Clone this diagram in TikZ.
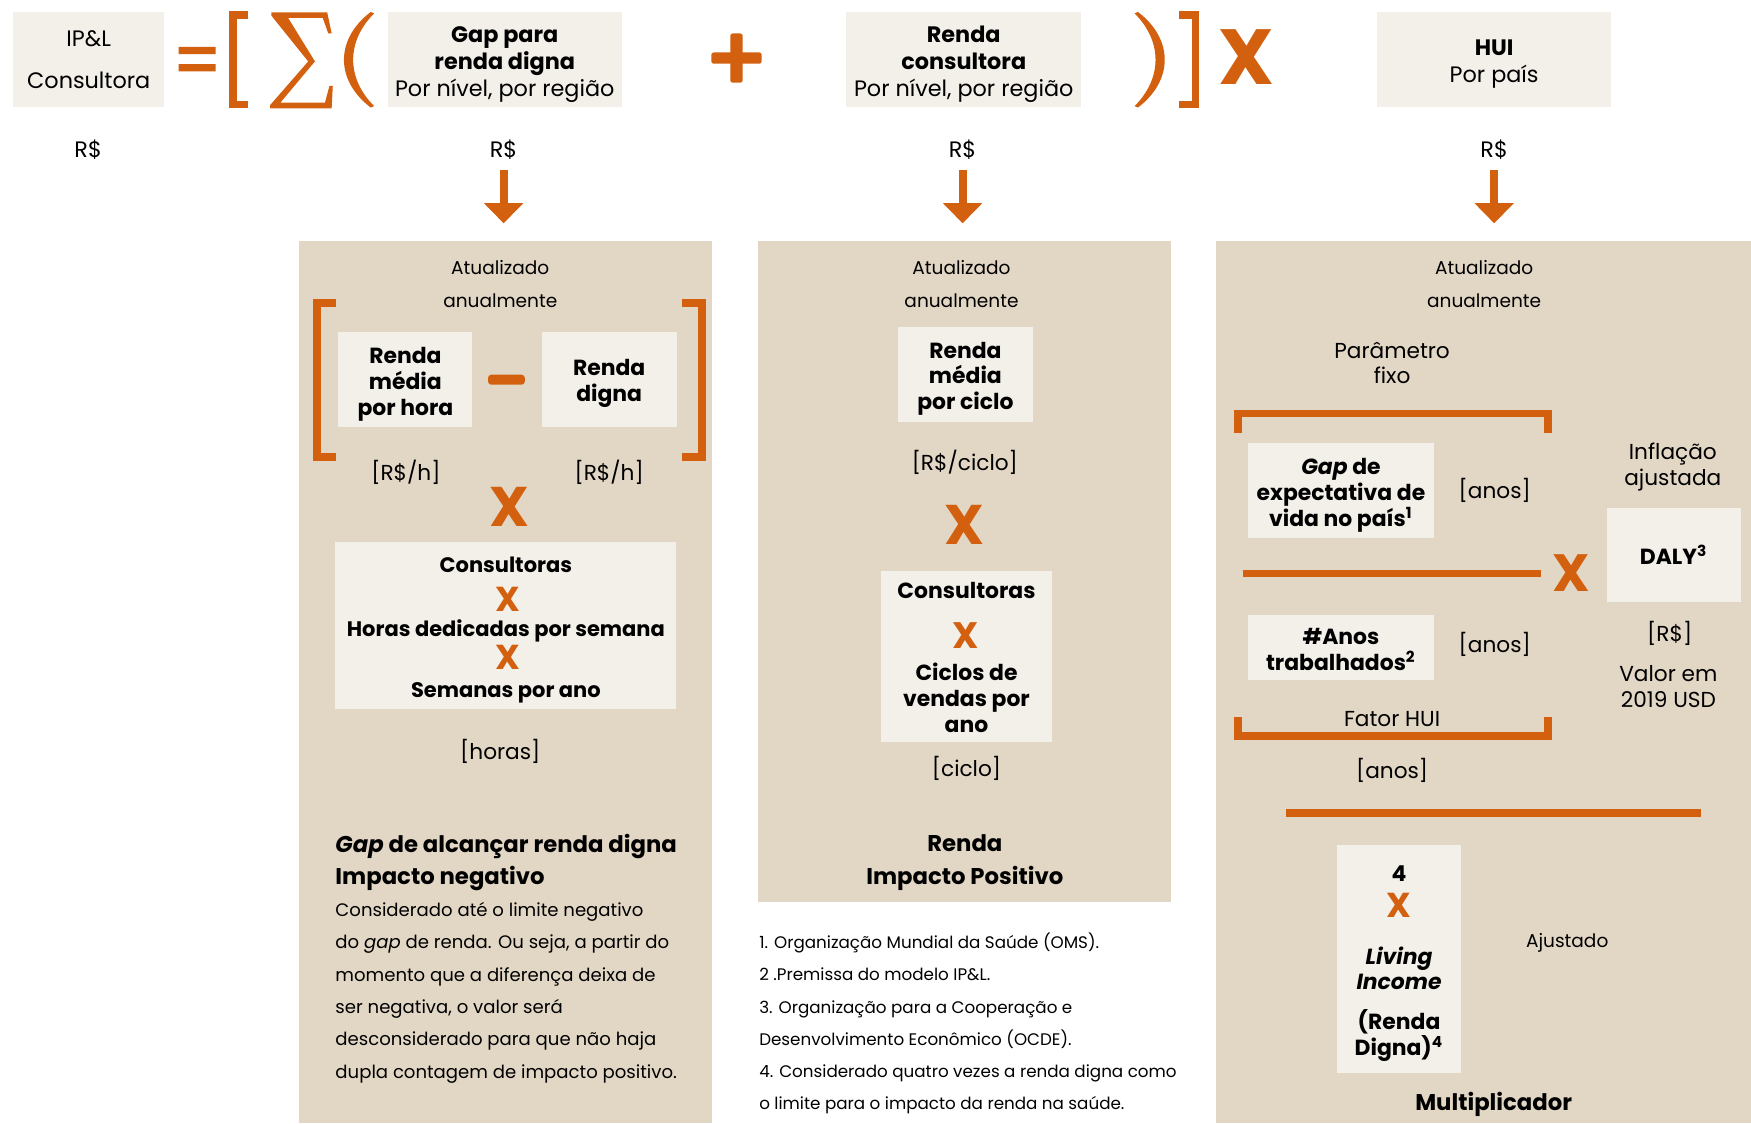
\documentclass[tikz,border=0pt]{standalone}
\usepackage{fontspec}
\setmainfont{Poppins}
\usetikzlibrary{arrows.meta}
\definecolor{orng}{HTML}{D3600F}
\definecolor{pale}{HTML}{F3EFE9}
\definecolor{sand}{HTML}{E2D7C5}
\newcommand\strutup[1]{\rule{0pt}{#1}}

\begin{document}
\begin{tikzpicture}[x=0.5pt, y=-0.5pt,
    pale box/.style={fill=pale, inner sep=0pt, align=center},
    top box/.style={pale box, minimum width=105pt, minimum height=42.5pt, font=\fontsize{10}{12}\selectfont},
    bx/.style={pale box, font=\bfseries\fontsize{9.8}{11.5}\selectfont},
    boxline/.style={inner sep=0pt, align=center, font=\bfseries\fontsize{9.8}{11.5}\selectfont},
    lbl/.style={inner sep=0pt, align=center, font=\fontsize{9.7}{11.5}\selectfont},
    upd/.style={inner sep=0pt, align=center, font=\fontsize{8.3}{14.5}\selectfont},
    ttl/.style={inner sep=0pt, font=\bfseries\fontsize{10.2}{14.5}\selectfont},
    body/.style={inner sep=0pt, align=left, font=\fontsize{8.1}{14.45}\selectfont},
    fnote/.style={inner sep=0pt, align=left, font=\fontsize{7.5}{14.4}\selectfont},
    xmark/.style={inner sep=0pt, text=orng, font=\bfseries\fontsize{#1}{#1}\selectfont},
    bar/.style={orng, line width=3.5pt},
    arr/.style={orng, line width=3.5pt, shorten <=4.5pt, -{Triangle[width=17pt, length=9pt]}}]

\useasboundingbox (0,0) rectangle (1568,1006);

% formula
\node[top box, minimum width=67.5pt] (ipl) at (79.5,53.5) {IP\&L\\[6.5pt]Consultora};
\fill[orng] (160,42) rectangle (193,48.5) (160,57.5) rectangle (193,64);
\draw[bar] (222,13.5) -- (208.5,13.5) -- (208.5,93.5) -- (222,93.5);
\fill[orng] (243,11) -- (293,11) -- (297,30) -- (294,30) -- (289,16) -- (258,16) -- (282,55)
    -- (251,92) -- (291,92) -- (295,77) -- (298,77) -- (297,97) -- (242,97) -- (242,94)
    -- (276,55) -- (243,14) -- cycle;
\fill[orng] (332,10.7) .. controls (300,35) and (300,72) .. (332,96.3)
    -- (335,95) .. controls (310,70) and (310,37) .. (335,12) -- cycle;
\node[top box] (gap) at (452,53.5) {\strutup{11.4pt}\textbf{Gap para}\\\textbf{renda digna}\\Por nível, por região};
\fill[orng, rounded corners=1pt] (637,47) rectangle (682,57) (654,30) rectangle (665,74);
\node[top box] (rcons) at (863,53.5) {\strutup{11.4pt}\textbf{Renda}\\\textbf{consultora}\\Por nível, por região};
\fill[orng] (1019,10.7) .. controls (1051,35) and (1051,72) .. (1019,96.3)
    -- (1016,95) .. controls (1041,70) and (1041,37) .. (1016,12) -- cycle;
\draw[bar] (1056,13.5) -- (1070.5,13.5) -- (1070.5,93.5) -- (1056,93.5);
\node[xmark=35] (xtop) at (1116,51.5) {X};
\node[top box] (hui) at (1338,53.5) {\strutup{11pt}\textbf{HUI}\\Por país};

% units and arrows
\node[lbl, font=\fontsize{10}{12}\selectfont] (r0) at (79,134) {R\$};
\node[lbl, font=\fontsize{10}{12}\selectfont] (r1) at (451,134) {R\$};
\node[lbl, font=\fontsize{10}{12}\selectfont] (r2) at (862,134) {R\$};
\node[lbl, font=\fontsize{10}{12}\selectfont] (r3) at (1338,134) {R\$};
\coordinate (a1) at (451,200);
\coordinate (a2) at (862,200);
\coordinate (a3) at (1338,200);
\draw[arr] (r1) -- (a1);
\draw[arr] (r2) -- (a2);
\draw[arr] (r3) -- (a3);

% panels
\fill[sand] (268,216) rectangle (638,1006);
\fill[sand] (679,216) rectangle (1049,808);
\fill[sand] (1089,216) rectangle (1568,1006);

% gap panel
\node[upd] (updA) at (448,254.5) {Atualizado\\anualmente};
\draw[bar] (301,271.5) -- (284,271.5) -- (284,409.5) -- (301,409.5);
\draw[bar] (611,271.5) -- (628.5,271.5) -- (628.5,409.5) -- (611,409.5);
\node[bx, minimum width=60pt, minimum height=42.5pt] (rmh) at (363,339.5) {\strutup{11.8pt}Renda\\média\\por hora};
\fill[orng, rounded corners=1.5pt] (437,335.5) rectangle (470,344.5);
\node[bx, minimum width=60.5pt, minimum height=42.5pt] (rd) at (545.5,339.5) {\strutup{11.3pt}Renda\\digna};
\node[lbl] (uA1) at (363.5,422.5) {[R\$/h]};
\node[lbl] (uA2) at (545.5,422.5) {[R\$/h]};
\node[xmark=25] (xA) at (456,453.5) {X};
\node[pale box, minimum width=152.5pt, minimum height=75pt] (chs) at (452.5,560) {};
\node[boxline, font=\bfseries\fontsize{9.4}{11.5}\selectfont] (cA) at (453,506) {Consultoras};
\node[xmark=15.5] (xA1) at (454.5,537) {X};
\node[boxline, font=\bfseries\fontsize{9.4}{11.5}\selectfont] (hA) at (453,564.5) {Horas dedicadas por semana};
\node[xmark=15.5] (xA2) at (454.5,589) {X};
\node[boxline, font=\bfseries\fontsize{9.4}{11.5}\selectfont] (sA) at (453,620) {Semanas por ano};
\node[lbl] (hrs) at (448,673) {[horas]};
\node[ttl, anchor=west, align=left] (tA) at (300,772.5) {\textit{Gap} de alcançar renda digna\\Impacto negativo};
\node[body, anchor=west] (nA) at (300,889) {Considerado até o limite negativo\\
    do \textit{gap} de renda. Ou seja, a partir do\\
    momento que a diferença deixa de\\
    ser negativa, o valor será\\
    desconsiderado para que não haja\\
    dupla contagem de impacto positivo.};

% income panel
\node[upd] (updB) at (861,254.5) {Atualizado\\anualmente};
\node[bx, minimum width=60.5pt, minimum height=42.5pt] (rmc) at (864.5,335.5) {\strutup{10.8pt}Renda\\média\\por ciclo};
\node[lbl] (uB) at (864,414) {[R\$/ciclo]};
\node[xmark=25] (xB) at (864,469.7) {X};
\node[pale box, minimum width=76.5pt, minimum height=76.5pt] (ccv) at (865.5,587.5) {};
\node[boxline] (cB) at (865.5,529) {Consultoras};
\node[xmark=16.5] (xB1) at (865,569) {X};
\node[boxline] (vB) at (865.5,625) {Ciclos de\\vendas por\\ano};
\node[lbl] (cic) at (865.5,688) {[ciclo]};
\node[ttl, align=center] (tB) at (864,772.5) {Renda\\Impacto Positivo};

% notes
\node[fnote, anchor=west] (notes) at (679.5,916.5) {1. Organização Mundial da Saúde (OMS).\\
    2 .Premissa do modelo IP\&L.\\
    3. Organização para a Cooperação e\\
    Desenvolvimento Econômico (OCDE).\\
    4. Considerado quatro vezes a renda digna como\\
    o limite para o impacto da renda na saúde.};

% health panel
\node[upd] (updC) at (1329,254.5) {Atualizado\\anualmente};
\node[lbl, font=\fontsize{9.7}{11}\selectfont] (pf) at (1246.6,325) {Parâmetro\\fixo};
\draw[bar] (1108.5,387.5) -- (1108.5,370.3) -- (1386,370.3) -- (1386,387.5);
\node[bx, minimum width=83.5pt, minimum height=42.5pt] (gev) at (1200.8,439) {\strutup{11.8pt}\textit{Gap} de\\expectativa de\\vida no país\textsuperscript{1}};
\node[lbl] (yr1) at (1338.5,438.8) {[anos]};
\node[lbl] (infl) at (1498,418) {Inflação\\ajustada};
\draw[bar] (1113,513.5) -- (1380,513.5);
\node[xmark=23.5] (xC) at (1407,513.5) {X};
\node[bx, minimum width=60pt, minimum height=42.5pt] (daly) at (1498.7,497) {DALY\textsuperscript{3}};
\node[bx, minimum width=83.5pt, minimum height=29pt] (anos) at (1200.8,579.5) {\strutup{9.3pt}\#Anos\\trabalhados\textsuperscript{2}};
\node[lbl] (yr2) at (1338.5,577) {[anos]};
\node[lbl] (rs) at (1495.2,567.5) {[R\$]};
\node[lbl] (usd) at (1494,615) {Valor em\\2019 USD};
\node[lbl] (fh) at (1246.6,643.5) {Fator HUI};
\draw[bar] (1108.5,642) -- (1108.5,659.2) -- (1386,659.2) -- (1386,642);
\node[lbl] (yr3) at (1246.6,689.5) {[anos]};
\draw[bar] (1152,728) -- (1523,728);
\node[pale box, minimum width=55.5pt, minimum height=102pt] (mult) at (1252.5,859) {};
\node[boxline] (four) at (1252.8,782) {4};
\node[xmark=15.5] (xM) at (1252.8,810.5) {X};
\node[boxline] (li) at (1252.8,867) {\textit{Living}\\\textit{Income}};
\node[boxline] (rdg) at (1252.8,927.5) {(Renda\\Digna)\textsuperscript{4}};
\node[upd] (adj) at (1403.4,844.5) {Ajustado};
\node[ttl] (mlt) at (1337.6,989) {Multiplicador};
\end{tikzpicture}
\end{document}
